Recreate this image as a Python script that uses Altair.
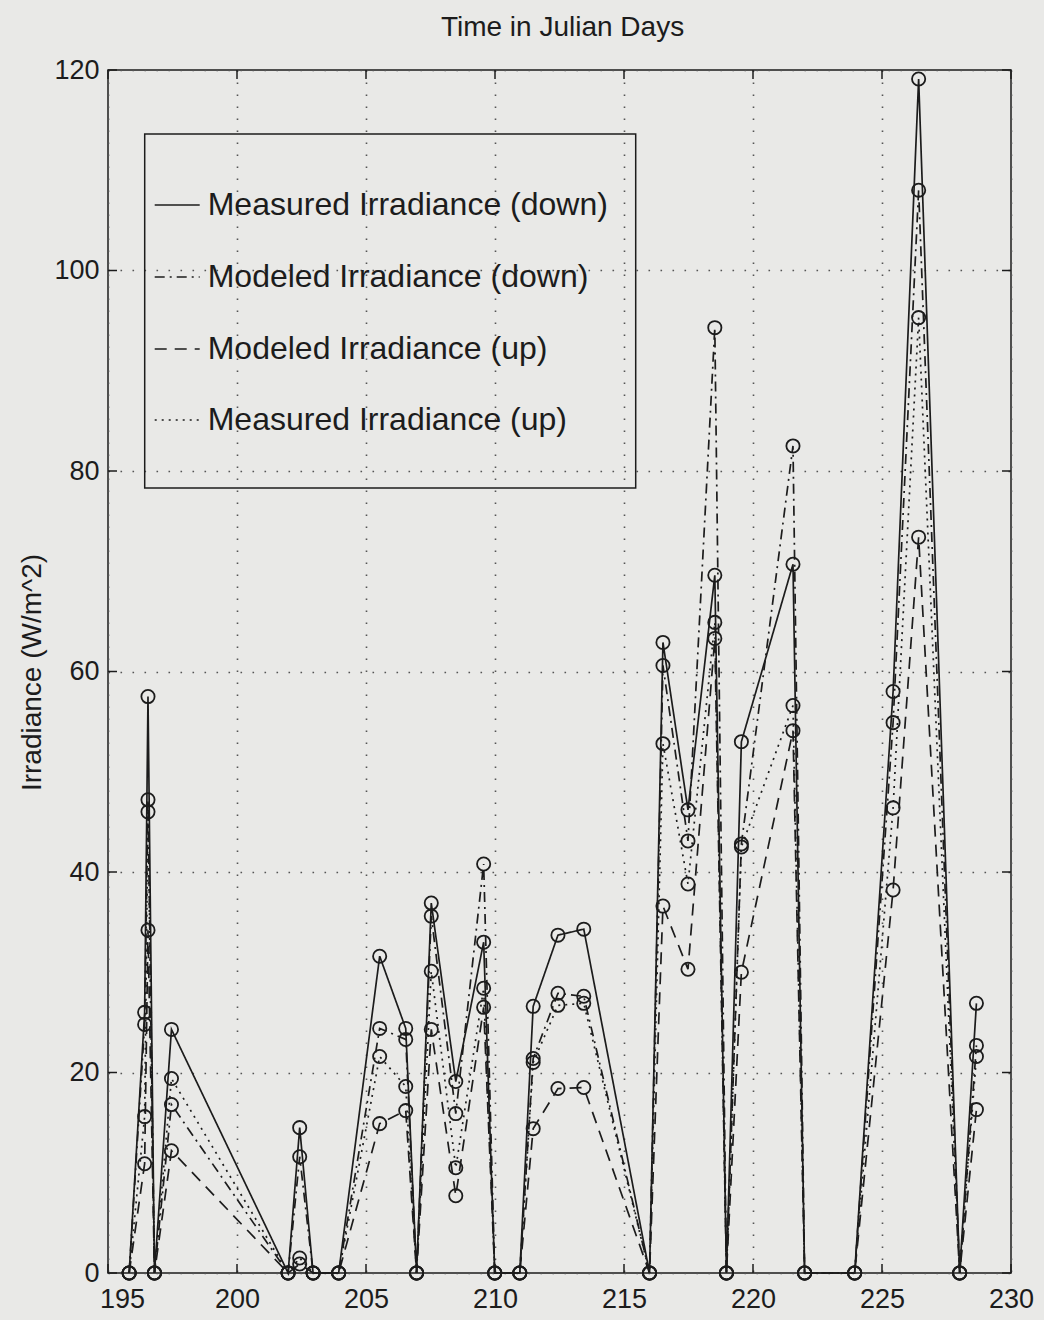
import altair as alt
import pandas as pd

# Julian day of each sample
days = [195.82, 196.42, 196.55, 196.80, 197.46, 201.98, 202.43, 202.95, 203.94,
        205.53, 206.54, 206.96, 207.53, 208.48, 209.56, 209.99, 210.96, 211.48,
        212.44, 213.44, 215.99, 216.51, 217.48, 218.52, 218.97, 219.55, 221.55,
        222.00, 223.94, 225.43, 226.42, 228.01, 228.66]

# Irradiance (W/m^2) per series, one value per day above
measured_down = [0, 26.0, 57.5, 0, 24.3, 0, 14.5, 0, 0, 31.6, 24.4, 0, 36.9, 19.1,
                 33.0, 0, 0, 26.6, 33.7, 34.3, 0, 62.9, 46.2, 69.6, 0, 53.0, 70.7,
                 0, 0, 58.0, 119.1, 0, 26.9]
modeled_down = [0, 24.8, 47.2, 0, 16.8, 0, 11.6, 0, 0, 24.4, 23.3, 0, 35.6, 15.9,
                40.8, 0, 0, 21.4, 27.9, 27.6, 0, 60.6, 43.1, 94.3, 0, 42.8, 82.5,
                0, 0, 54.9, 108.0, 0, 22.7]
modeled_up = [0, 10.9, 34.2, 0, 12.2, 0, 0.9, 0, 0, 14.9, 16.2, 0, 24.3, 7.7,
              26.5, 0, 0, 14.4, 18.4, 18.5, 0, 36.6, 30.3, 63.3, 0, 30.0, 54.1,
              0, 0, 38.2, 73.4, 0, 16.3]
measured_up = [0, 15.6, 46.0, 0, 19.4, 0, 1.5, 0, 0, 21.6, 18.6, 0, 30.1, 10.5,
               28.4, 0, 0, 21.0, 26.7, 26.9, 0, 52.8, 38.8, 64.9, 0, 42.5, 56.6,
               0, 0, 46.4, 95.3, 0, 21.6]

series_names = ["Measured Irradiance (down)", "Modeled Irradiance (down)",
                "Modeled Irradiance (up)", "Measured Irradiance (up)"]
series_values = [measured_down, modeled_down, modeled_up, measured_up]
series_dashes = [[1, 0], [10, 5, 2, 5], [12, 8], [2, 5]]

x_ticks = [195, 200, 205, 210, 215, 220, 225, 230]
y_ticks = [0, 20, 40, 60, 80, 100, 120]

W, H = 903, 1203
INK = "#1c1c1c"
FONT = "Liberation Sans"

rows = []
for name, vals in zip(series_names, series_values):
    for d, v in zip(days, vals):
        rows.append({"day": d, "irr": v, "series": name})
df = pd.DataFrame(rows)

x_scale = alt.Scale(domain=[195, 230], nice=False, zero=False)
y_scale = alt.Scale(domain=[0, 120], nice=False, zero=False)

x_enc = alt.X("day:Q", scale=x_scale,
              axis=alt.Axis(values=x_ticks, title=None, domain=False, ticks=False,
                            grid=True, labelFontSize=27, labelPadding=13,
                            labelFont=FONT, labelColor=INK, labelFlush=False,
                            labelOffset={"condition": {"test": "datum.value == 195",
                                                       "value": 14},
                                         "value": 0}))
y_enc = alt.Y("irr:Q", scale=y_scale,
              axis=alt.Axis(values=y_ticks, title="Irradiance (W/m^2)", domain=False,
                            ticks=False, grid=True, labelFontSize=27, labelPadding=9,
                            labelFont=FONT, labelColor=INK, titleFont=FONT,
                            titleFontSize=28, titleFontWeight="normal",
                            titleColor=INK, titleAngle=-90, titleX=-76, titleY=602,
                            titleAlign="center", titleBaseline="middle"))

dash_scale = alt.Scale(domain=series_names, range=series_dashes)

lines = alt.Chart(df).mark_line(color=INK, strokeWidth=1.7).encode(
    x=x_enc, y=y_enc,
    strokeDash=alt.StrokeDash("series:N", scale=dash_scale, legend=None),
)

points = alt.Chart(df).mark_point(shape="circle", size=175, filled=False,
                                  stroke=INK, strokeWidth=1.8, opacity=1).encode(
    x=alt.X("day:Q", scale=x_scale), y=alt.Y("irr:Q", scale=y_scale),
    detail="series:N",
)

# inward tick marks on all four sides
xt = pd.DataFrame({"t": x_ticks})
yt = pd.DataFrame({"t": y_ticks})
TL = 9
xtick_b = alt.Chart(xt).mark_rule(color=INK, strokeWidth=1.5).encode(
    x=alt.X("t:Q", scale=x_scale), y=alt.value(H), y2=alt.value(H - TL))
xtick_t = alt.Chart(xt).mark_rule(color=INK, strokeWidth=1.5).encode(
    x=alt.X("t:Q", scale=x_scale), y=alt.value(0), y2=alt.value(TL))
ytick_l = alt.Chart(yt).mark_rule(color=INK, strokeWidth=1.5).encode(
    y=alt.Y("t:Q", scale=y_scale), x=alt.value(0), x2=alt.value(TL))
ytick_r = alt.Chart(yt).mark_rule(color=INK, strokeWidth=1.5).encode(
    y=alt.Y("t:Q", scale=y_scale), x=alt.value(W), x2=alt.value(W - TL))

one = pd.DataFrame({"k": [0]})

# heading above the plot
heading = alt.Chart(one).mark_text(align="center", baseline="alphabetic",
                                   fontSize=28, font=FONT, color=INK).encode(
    x=alt.value(W / 2 + 3), y=alt.value(-34), text=alt.value("Time in Julian Days"))

# legend box with line samples and labels
legend_layers = [
    alt.Chart(one).mark_rect(fillOpacity=0, stroke=INK, strokeWidth=1.5).encode(
        x=alt.value(36.7), x2=alt.value(527.7), y=alt.value(64), y2=alt.value(418))
]
legend_rows = [135, 207, 279, 350]
for name, dash, ly in zip(series_names, series_dashes, legend_rows):
    legend_layers.append(
        alt.Chart(one).mark_rule(color=INK, strokeWidth=1.7, strokeDash=dash).encode(
            x=alt.value(46.7), x2=alt.value(91.7), y=alt.value(ly)))
    legend_layers.append(
        alt.Chart(one).mark_text(align="left", baseline="middle", fontSize=32,
                                 font=FONT, color=INK).encode(
            x=alt.value(99.7), y=alt.value(ly), text=alt.value(name)))

chart = alt.layer(lines, points, xtick_b, xtick_t, ytick_l, ytick_r, heading,
                  *legend_layers).properties(
    width=W, height=H,
    autosize=alt.AutoSizeParams(type="none"),
    padding={"left": 108, "top": 70, "right": 33, "bottom": 47},
).configure(background="#e9e9e7").configure_view(
    stroke=INK, strokeWidth=1.5, fill=None
).configure_axis(
    gridColor="#555555", gridDash=[1.6, 10.4], gridWidth=1.6, gridOpacity=1
)

chart.save("out.html", embed_options={"renderer": "svg", "actions": False})
